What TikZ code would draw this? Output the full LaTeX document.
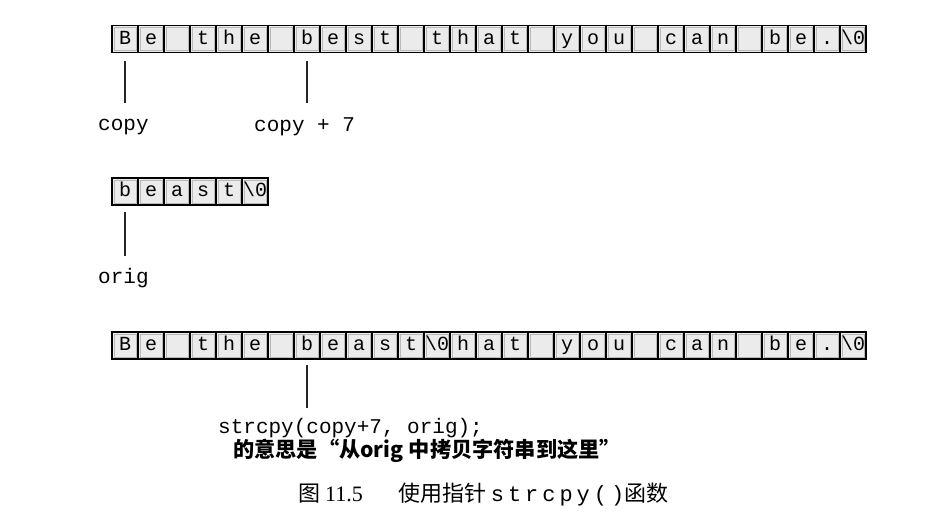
\documentclass[tikz,border=0pt]{standalone}
\usepackage{fontspec}
\setmonofont{Liberation Mono}
\newfontfamily\cjk{Noto Sans CJK SC}
\newfontfamily\tms{Liberation Serif}
\begin{document}
\begin{tikzpicture}[x=1pt, y=-1pt,
  cell/.style={draw=black, line width=1.3pt, fill=gray!16, minimum width=26pt, minimum height=27pt,
    inner sep=0pt, outer sep=0pt, text height=13.5pt, text depth=3pt,
    font=\ttfamily\fontsize{20}{20}\selectfont,
    path picture={\draw[gray!55, line width=.6pt] ([shift={(2pt,2pt)}]path picture bounding box.south west)
      rectangle ([shift={(-2pt,-2pt)}]path picture bounding box.north east);}},
  lbl/.style={anchor=west, inner sep=0pt, font=\ttfamily\fontsize{21}{21}\selectfont},
  ptr/.style={black!85, line width=1.3pt}]
\useasboundingbox (0,0) rectangle (937,525);

% the string copy points to
\foreach \c [count=\i from 0] in {B,e, ,t,h,e, ,b,e,s,t, ,t,h,a,t, ,y,o,u, ,c,a,n, ,b,e,.,\textbackslash0}
  \node[cell] (a\i) at (125+26*\i,39) {\c};

% orig
\foreach \c [count=\i from 0] in {b,e,a,s,t,\textbackslash0}
  \node[cell] (b\i) at (125+26*\i,191.5) {\c};

% after strcpy
\foreach \c [count=\i from 0] in {B,e, ,t,h,e, ,b,e,a,s,t,\textbackslash0,h,a,t, ,y,o,u, ,c,a,n, ,b,e,.,\textbackslash0}
  \node[cell] (c\i) at (125+26*\i,345.5) {\c};

\node[lbl] (lcopy) at (98,127) {copy};
\node[lbl] (lcopyseven) at (254,127) {copy + 7};
\node[lbl] (lorig) at (98,278) {orig};
\node[lbl] (lcall) at (218,428) {strcpy(copy+7, orig);};
\node[anchor=west, inner sep=0pt, font=\cjk\bfseries\fontsize{21.2}{21.2}\selectfont] (lmean) at (233,451)
  {的意思是“从orig\hspace{.25em}中拷贝字符串到这里”};
\node[anchor=west, inner sep=0pt, font=\cjk\fontsize{22}{22}\selectfont] (caption) at (298,495)
  {图 {\tms 11.5}\hspace{1.6em}使用指针 {\ttfamily\addfontfeatures{LetterSpace=18}strcpy()}函数};

\draw[ptr] ([yshift=-8pt]a0.south) -- ([yshift=24pt]a0.south |- lcopy.west);
\draw[ptr] ([yshift=-8pt]a7.south) -- ([yshift=24pt]a7.south |- lcopyseven.west);
\draw[ptr] ([yshift=-7pt]b0.south) -- ([yshift=22pt]b0.south |- lorig.west);
\draw[ptr] ([yshift=-6pt]c7.south) -- ([yshift=20pt]c7.south |- lcall.west);
\end{tikzpicture}
\end{document}
